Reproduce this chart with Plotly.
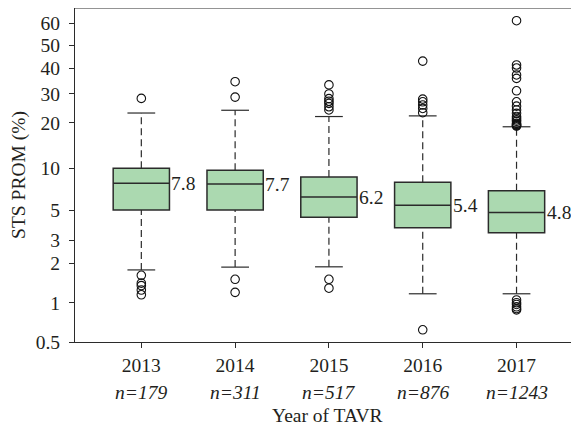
import numpy as np
import plotly.graph_objects as go

# ---------------- data ----------------
years = ["2013", "2014", "2015", "2016", "2017"]
n_counts = [179, 311, 517, 876, 1243]
medians = [7.8, 7.7, 6.2, 5.4, 4.8]
q1 = [5.0, 5.0, 4.42, 3.70, 3.40]
q3 = [10.0, 9.67, 8.65, 7.93, 6.89]
whisker_low = [1.78, 1.87, 1.88, 1.17, 1.17]
whisker_high = [22.9, 23.8, 21.8, 22.0, 18.8]

outliers_2013 = [28.1, 1.62, 1.41, 1.35, 1.25, 1.15]
outliers_2014 = [34.3, 28.6, 1.51, 1.20]
outliers_2015 = [33.1, 29.9, 28.0, 27.0, 26.2, 25.0, 23.9, 1.51, 1.29]
outliers_2016 = [42.8, 27.8, 26.8, 25.6, 24.4, 23.0, 0.62]
outliers_2017 = [61.3, 41.2, 40.0, 37.0, 35.6, 31.0, 26.8, 25.2, 23.9, 22.8,
                 21.8, 21.3, 20.8, 20.4, 19.8, 19.5, 19.3, 19.1, 19.0,
                 1.05, 1.0, 0.97, 0.93, 0.90, 0.88]
outliers = [outliers_2013, outliers_2014, outliers_2015, outliers_2016, outliers_2017]

y_tick_values = [0.5, 1, 2, 3, 5, 10, 20, 30, 40, 50, 60]
y_tick_labels = ["0.5", "1", "2", "3", "5", "10", "20", "30", "40", "50", "60"]

# ---------------- axis scale of the reference ----------------
# The reference's value axis is log-like but not exactly logarithmic near the top;
# this monotone scale reproduces the spacing of its labelled ticks.
scale_knot_values = [0.5, 1, 2, 3, 5, 10, 20, 30, 40, 50, 60, 70]
scale_knot_units = [0, 39.3, 78.7, 102, 132, 173.7, 219.3, 248.3, 274, 296.7, 318.7, 337.3]


def scale(v):
    return np.interp(np.log10(np.asarray(v, dtype=float)),
                     np.log10(scale_knot_values), scale_knot_units)


FONT = "Liberation Serif"
FS = 19.5
TXT = "#231f20"
EDGE = "#2b2b2b"
FILL = "#abd9b0"
BOX_W = 0.60
CAP_HALF = 0.148

xs = np.arange(1, len(years) + 1)

fig = go.Figure()

# whiskers (dashed) and caps
for i, x in enumerate(xs):
    for lo, hi in [(q3[i], whisker_high[i]), (whisker_low[i], q1[i])]:
        fig.add_trace(go.Scatter(
            x=[x, x], y=scale([lo, hi]), mode="lines",
            line=dict(color=EDGE, width=1.2, dash="7px,4px"),
            hoverinfo="skip", showlegend=False))
    for w in (whisker_low[i], whisker_high[i]):
        fig.add_trace(go.Scatter(
            x=[x - CAP_HALF, x + CAP_HALF], y=scale([w, w]), mode="lines",
            line=dict(color=EDGE, width=1.2),
            hoverinfo="skip", showlegend=False))

# boxes
fig.add_trace(go.Box(
    x=xs, q1=scale(q1), median=scale(medians), q3=scale(q3),
    lowerfence=scale(q1), upperfence=scale(q3),
    width=BOX_W, whiskerwidth=0,
    fillcolor=FILL, line=dict(color=EDGE, width=1.5),
    boxpoints=False, showlegend=False, hoverinfo="skip"))

# outliers
for i, x in enumerate(xs):
    fig.add_trace(go.Scatter(
        x=[x] * len(outliers[i]), y=scale(outliers[i]), mode="markers",
        marker=dict(symbol="circle-open", size=8.5, color="#111111",
                    line=dict(width=1.1, color="#111111")),
        hoverinfo="skip", showlegend=False))

# median labels
for i, x in enumerate(xs):
    fig.add_annotation(
        x=x + BOX_W / 2, y=float(scale(medians[i])), xref="x", yref="y",
        text=f"{medians[i]:.1f}", showarrow=False, xanchor="left", yanchor="middle",
        xshift=0, font=dict(family=FONT, size=FS, color=TXT))

# n labels
for i, x in enumerate(xs):
    fig.add_annotation(
        x=x, y=-0.152, xref="x", yref="paper",
        text=f"<i>n={n_counts[i]}</i>", showarrow=False,
        xanchor="center", yanchor="middle",
        font=dict(family=FONT, size=FS, color=TXT))

# x title
fig.add_annotation(
    x=0.5, y=-0.221, xref="paper", yref="paper", text="Year of TAVR",
    showarrow=False, xanchor="center", yanchor="middle",
    font=dict(family=FONT, size=FS, color=TXT))

# top frame line
fig.add_shape(type="line", xref="paper", yref="paper", x0=0, x1=1, y0=1, y1=1,
              line=dict(color=EDGE, width=1.2))

# the page places the figure 8 px from the top-left corner of the window
fig.update_layout(
    width=571, height=419,
    margin=dict(l=67, r=0, t=0, b=85),
    paper_bgcolor="white", plot_bgcolor="white",
    font=dict(family=FONT, size=FS, color=TXT),
    xaxis=dict(
        range=[0.293, 5.666], tickmode="array", tickvals=xs, ticktext=years,
        showgrid=False, zeroline=False, showline=True, linecolor=EDGE, linewidth=1.2,
        ticks="outside", ticklen=5, tickcolor=EDGE, tickwidth=1,
        ticklabelstandoff=0, tickfont=dict(family=FONT, size=FS, color=TXT)),
    yaxis=dict(
        range=[0, 334], tickmode="array", tickvals=scale(y_tick_values),
        ticktext=y_tick_labels,
        showgrid=False, zeroline=False, showline=True, linecolor=EDGE, linewidth=1.2,
        ticks="outside", ticklen=5, tickcolor=EDGE, tickwidth=1,
        ticklabelstandoff=5, tickfont=dict(family=FONT, size=FS, color=TXT),
        title=dict(text="STS PROM (%)", standoff=8,
                   font=dict(family=FONT, size=FS, color=TXT))),
)

fig.write_html("out.html")
